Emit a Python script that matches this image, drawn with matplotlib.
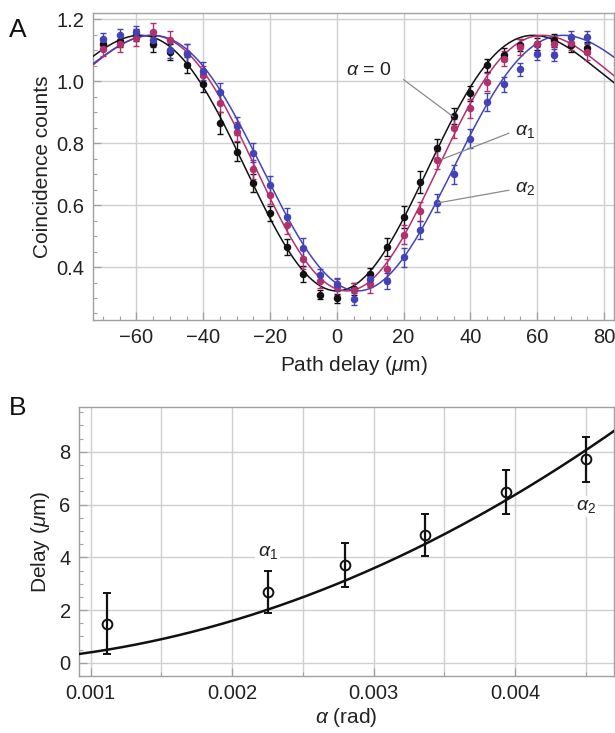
import numpy as np
import matplotlib
matplotlib.use("Agg")
import matplotlib.pyplot as plt
from matplotlib.ticker import MultipleLocator

plt.rcParams['font.family'] = ['Liberation Sans', 'DejaVu Sans']
plt.rcParams['mathtext.fontset'] = 'custom'
plt.rcParams['mathtext.rm'] = 'Liberation Sans'
plt.rcParams['mathtext.it'] = 'Liberation Sans:italic'

# ---------------- Panel A data ----------------
path_delay = [-70, -65, -60, -55, -50, -45, -40, -35, -30, -25, -20, -15, -10, -5, 0,
              5, 10, 15, 20, 25, 30, 35, 40, 45, 50, 55, 60, 65, 70, 75]
counts_alpha0 = [1.12, 1.13, 1.15, 1.12, 1.095, 1.053, 0.99, 0.865, 0.773, 0.672, 0.573, 0.464, 0.377, 0.311, 0.299,
                 0.33, 0.377, 0.465, 0.561, 0.675, 0.783, 0.888, 0.961, 1.051, 1.086, 1.118, 1.12, 1.132, 1.116, 1.107]
counts_alpha1 = [1.105, 1.121, 1.14, 1.159, 1.132, 1.09, 1.02, 0.931, 0.837, 0.715, 0.634, 0.537, 0.425, 0.356, 0.336,
                 0.325, 0.345, 0.395, 0.505, 0.58, 0.745, 0.848, 0.912, 0.997, 1.073, 1.11, 1.121, 1.12, 1.125, 1.094]
counts_alpha2 = [1.137, 1.15, 1.159, 1.134, 1.10, 1.089, 1.033, 0.964, 0.856, 0.769, 0.665, 0.562, 0.463, 0.374, 0.344,
                 0.297, 0.36, 0.355, 0.431, 0.52, 0.607, 0.699, 0.815, 0.933, 0.99, 1.038, 1.089, 1.084, 1.143, 1.143]
err_alpha0 = [0.02, 0.02, 0.02, 0.025, 0.025, 0.025, 0.025, 0.035, 0.03, 0.03, 0.025, 0.025, 0.025, 0.015, 0.015,
              0.02, 0.02, 0.03, 0.035, 0.035, 0.03, 0.025, 0.025, 0.02, 0.02, 0.02, 0.02, 0.02, 0.02, 0.02]
err_alpha1 = [0.025, 0.025, 0.025, 0.03, 0.03, 0.03, 0.03, 0.03, 0.03, 0.03, 0.03, 0.03, 0.03, 0.025, 0.025,
              0.025, 0.03, 0.03, 0.03, 0.03, 0.03, 0.03, 0.03, 0.03, 0.025, 0.025, 0.025, 0.025, 0.025, 0.025]
err_alpha2 = [0.02, 0.02, 0.02, 0.025, 0.025, 0.03, 0.03, 0.03, 0.03, 0.03, 0.03, 0.03, 0.03, 0.02, 0.02,
              0.02, 0.025, 0.025, 0.03, 0.03, 0.03, 0.03, 0.03, 0.03, 0.025, 0.02, 0.02, 0.02, 0.02, 0.02]

# sinc fit parameters: y = offset - depth * sin(u)/u, u = (x - center)/width
fit_center = [0.0, 3.0, 6.3]
fit_width = [13.1, 13.05, 13.7]
fit_offset = 1.001
fit_depth = 0.678

# ---------------- Panel B data ----------------
alpha_rad = [0.001113, 0.00225, 0.0028, 0.003365, 0.003935, 0.0045]
delay_um = [1.48, 2.69, 3.72, 4.86, 6.48, 7.72]
delay_err = [1.15, 0.8, 0.84, 0.8, 0.84, 0.85]
quad_coef = 3.98e5  # delay = coef * alpha^2

col_k = '#111111'
col_m = '#b3306e'
col_b = '#4343b8'
grid_col = '#d0d0d0'
spine_col = '#a0a0a0'
text_col = '#222222'

fig = plt.figure(figsize=(6.15, 7.33), dpi=100)

def style(ax):
    for s in ax.spines.values():
        s.set_color(spine_col)
        s.set_linewidth(1.0)
    ax.tick_params(which='both', direction='in', colors=spine_col, labelcolor=text_col,
                   labelsize=14.5, top=False, right=False)
    ax.tick_params(which='major', length=6, width=0.9, pad=6)
    ax.tick_params(which='minor', length=3, width=0.8)
    ax.set_axisbelow(True)

# ---------- Panel A ----------
axA = fig.add_axes([93/615, 1-320/733, 521/615, (320-12.8)/733])
style(axA)
axA.set_xlim(-73, 83)
axA.set_ylim(0.229, 1.221)
axA.xaxis.set_major_locator(MultipleLocator(20))
axA.xaxis.set_minor_locator(MultipleLocator(5))
axA.yaxis.set_major_locator(MultipleLocator(0.2))
axA.yaxis.set_minor_locator(MultipleLocator(0.05))
axA.xaxis.set_major_formatter(matplotlib.ticker.FuncFormatter(lambda v, p: f"{v:.0f}".replace('-', '\u2212')))
axA.yaxis.set_major_formatter(matplotlib.ticker.FormatStrFormatter('%.1f'))
axA.grid(True, which='major', color=grid_col, lw=1.0)

xs = np.linspace(-73, 83, 600)
series = [(counts_alpha0, err_alpha0, col_k), (counts_alpha1, err_alpha1, col_m), (counts_alpha2, err_alpha2, col_b)]
for i, (yv, ev, c) in enumerate(series):
    u = (xs - fit_center[i]) / fit_width[i]
    axA.plot(xs, fit_offset - fit_depth * np.sinc(u / np.pi), color=c, lw=1.1, zorder=3)
for i, (yv, ev, c) in enumerate(series):
    axA.errorbar(path_delay, yv, yerr=ev, fmt='o', color=c, ms=4.4, elinewidth=1.0,
                 capsize=2.2, capthick=1.0, zorder=4)

axA.set_xlabel(r'Path delay ($\mu$m)', fontsize=15, color=text_col, labelpad=5)
axA.set_ylabel('Coincidence counts', fontsize=15, color=text_col, labelpad=3.5)

ann_col = '#8a8a8a'
axA.plot([20, 34.8], [1.005, 0.886], color=ann_col, lw=0.9, zorder=5)
axA.plot([51.5, 31.5], [0.832, 0.748], color=ann_col, lw=0.9, zorder=5)
axA.plot([51.5, 30.2], [0.648, 0.607], color=ann_col, lw=0.9, zorder=5)
axA.text(16.5, 1.035, r'$\alpha$ = 0', fontsize=14, ha='right', va='center', color=text_col)
axA.text(53.5, 0.837, r'$\alpha_1$', fontsize=14, ha='left', va='center', color=text_col)
axA.text(53.5, 0.654, r'$\alpha_2$', fontsize=14, ha='left', va='center', color=text_col)

# ---------- Panel B ----------
axB = fig.add_axes([79/615, 1-676/733, 535/615, (676-407)/733])
style(axB)
axB.set_xlim(0.000917, 0.0047)
axB.set_ylim(-0.5, 9.7)
axB.xaxis.set_major_locator(MultipleLocator(0.001))
axB.xaxis.set_minor_locator(MultipleLocator(0.0005))
axB.yaxis.set_major_locator(MultipleLocator(2))
axB.yaxis.set_minor_locator(MultipleLocator(0.5))
axB.xaxis.set_major_formatter(matplotlib.ticker.FormatStrFormatter('%.3f'))
axB.grid(True, which='major', color=grid_col, lw=1.0)
axB.grid(True, which='minor', axis='x', color=grid_col, lw=1.0)

xb = np.linspace(0.000917, 0.0047, 300)
axB.plot(xb, quad_coef * xb**2, color=col_k, lw=1.8, zorder=3)
axB.errorbar(alpha_rad, delay_um, yerr=delay_err, fmt='o', mfc='none', mec=col_k, ecolor=col_k,
             ms=7, mew=1.4, elinewidth=1.6, capsize=3, capthick=1.4, zorder=4)
axB.text(0.00225, 4.2, r'$\alpha_1$', fontsize=14, ha='center', va='center', color=text_col,
         bbox=dict(facecolor='white', edgecolor='none', pad=1.5), zorder=5)
axB.text(0.0045, 5.92, r'$\alpha_2$', fontsize=14, ha='center', va='center', color=text_col,
         bbox=dict(facecolor='white', edgecolor='none', pad=1.5), zorder=5)
axB.set_xlabel(r'$\alpha$ (rad)', fontsize=15, color=text_col, labelpad=2)
axB.set_ylabel(r'Delay ($\mu$m)', fontsize=15, color=text_col, labelpad=5)

fig.text(18/615, 1-30/733, 'A', fontsize=19, ha='center', va='center', color='#111111')
fig.text(18/615, 1-408/733, 'B', fontsize=19, ha='center', va='center', color='#111111')

fig.savefig('out.png', dpi=100)
